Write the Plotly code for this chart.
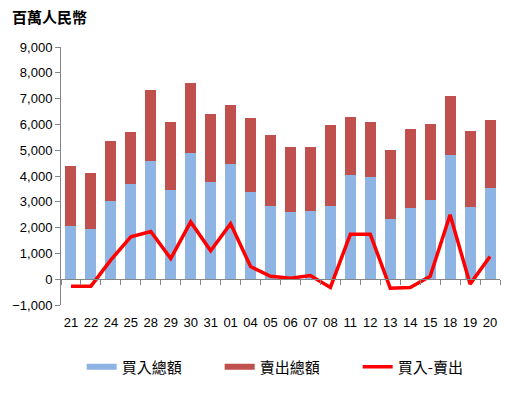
import plotly.graph_objects as go

categories = ["21", "22", "24", "25", "28", "29", "30", "31", "01", "04", "05",
              "06", "07", "08", "11", "12", "13", "14", "15", "18", "19", "20"]
buy_total = [2050, 1930, 3020, 3680, 4600, 3440, 4910, 3750, 4450, 3370, 2830,
             2600, 2640, 2830, 4020, 3950, 2320, 2750, 3060, 4800, 2790, 3520]
sell_total = [2320, 2170, 2320, 2040, 2750, 2670, 2710, 2670, 2320, 2890, 2740,
              2540, 2500, 3160, 2280, 2160, 2670, 3090, 2970, 2310, 2970, 2660]
net_flow = [-270, -270, 750, 1640, 1850, 800, 2220, 1100, 2150, 490, 110,
            40, 140, -320, 1740, 1740, -350, -320, 110, 2500, -190, 880]
y_ticks = [-1000, 0, 1000, 2000, 3000, 4000, 5000, 6000, 7000, 8000, 9000]

BLUE = "#8EB4E3"
RED_BAR = "#C0504D"
RED_LINE = "#FF0000"

tick_font = dict(family="Liberation Sans, Arial, sans-serif", size=13, color="#000")
cjk = "Noto Sans CJK TC, Noto Sans CJK SC, sans-serif"

fig = go.Figure()
fig.add_trace(go.Bar(x=categories, y=buy_total, name="買入總額", showlegend=False,
                     marker=dict(color=BLUE, line=dict(width=0))))
fig.add_trace(go.Bar(x=categories, y=sell_total, name="賣出總額", showlegend=False,
                     marker=dict(color=RED_BAR, line=dict(width=0))))
fig.add_trace(go.Scatter(x=categories, y=net_flow, name="買入-賣出", mode="lines",
                         showlegend=False, line=dict(color=RED_LINE, width=3.5)))

# legend entries (wide swatches like the original)
fig.add_trace(go.Scatter(x=[None], y=[None], mode="lines", name="買入總額",
                         line=dict(color=BLUE, width=6), hoverinfo="skip"))
fig.add_trace(go.Scatter(x=[None], y=[None], mode="lines", name="賣出總額",
                         line=dict(color=RED_BAR, width=6), hoverinfo="skip"))
fig.add_trace(go.Scatter(x=[None], y=[None], mode="lines", name="買入-賣出",
                         line=dict(color=RED_LINE, width=3.5), hoverinfo="skip"))

n = len(categories)
fig.update_layout(
    width=516, height=396,
    margin=dict(l=54, r=16, t=47, b=90),
    paper_bgcolor="white", plot_bgcolor="white",
    barmode="stack", bargap=0.45,
    title=dict(text="<b>百萬人民幣</b>", font=dict(family=cjk, size=15, color="#000"),
               xref="container", yref="container", x=12/516, xanchor="left",
               y=1 - 18/396, yanchor="middle"),
    showlegend=True,
    legend=dict(orientation="h", x=(75 - 54) / 446, xanchor="left", y=-0.24,
                yanchor="middle", font=dict(family=cjk, size=15, color="#000"),
                itemwidth=30, entrywidth=93, entrywidthmode="pixels",
                traceorder="normal"),
    xaxis=dict(type="category", categoryorder="array", categoryarray=categories,
               range=[-0.5, n - 0.5], showline=False, ticks="", showgrid=False,
               tickfont=tick_font, zeroline=False, ticklabelstandoff=8),
    xaxis2=dict(overlaying="x", anchor="free", position=0.1, range=[-0.5, n - 0.5],
                tickmode="array", tickvals=[i - 0.5 for i in range(n + 1)],
                showticklabels=False, ticks="outside", ticklen=5, tickcolor="#868686",
                showline=True, linecolor="#868686", linewidth=1, showgrid=False,
                zeroline=False),
    yaxis=dict(range=[-1000, 9000], tickmode="array", tickvals=y_ticks,
               tickformat=",d", showgrid=False, zeroline=False, showline=True,
               linecolor="#868686", linewidth=1, ticks="outside", ticklen=5,
               tickcolor="#868686", tickfont=tick_font),
)
fig.add_trace(go.Scatter(x=[None], y=[None], xaxis="x2", showlegend=False,
                         hoverinfo="skip"))
fig.write_html("out.html", config={"displayModeBar": False},
               post_script="document.body.style.margin='0px';")
